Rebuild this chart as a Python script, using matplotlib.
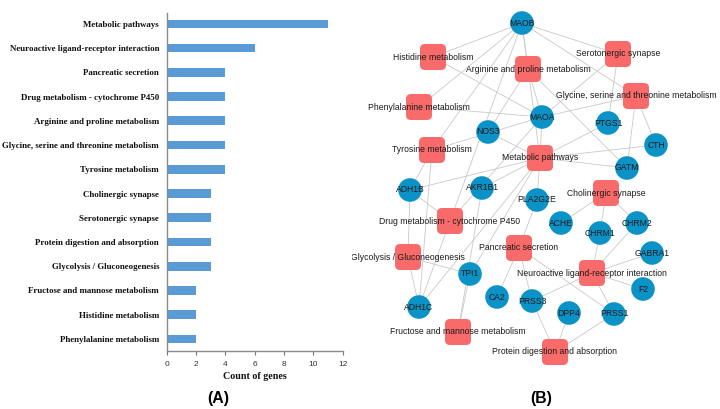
import matplotlib
matplotlib.use("Agg")
import matplotlib.pyplot as plt
from matplotlib.patches import Circle, FancyBboxPatch

# ---------------- Data: bar chart (A) ----------------
pathways = [
    "Metabolic pathways",
    "Neuroactive ligand-receptor interaction",
    "Pancreatic secretion",
    "Drug metabolism - cytochrome P450",
    "Arginine and proline metabolism",
    "Glycine, serine and threonine metabolism",
    "Tyrosine metabolism",
    "Cholinergic synapse",
    "Serotonergic synapse",
    "Protein digestion and absorption",
    "Glycolysis / Gluconeogenesis",
    "Fructose and mannose metabolism",
    "Histidine metabolism",
    "Phenylalanine metabolism",
]
gene_counts = [11, 6, 4, 4, 4, 4, 4, 3, 3, 3, 3, 2, 2, 2]
x_ticks = [0, 2, 4, 6, 8, 10, 12]

# ---------------- Data: network (B) ----------------
pathway_nodes = [
    "Histidine metabolism", "Arginine and proline metabolism", "Serotonergic synapse",
    "Glycine, serine and threonine metabolism", "Phenylalanine metabolism",
    "Tyrosine metabolism", "Metabolic pathways", "Cholinergic synapse",
    "Drug metabolism - cytochrome P450", "Pancreatic secretion",
    "Glycolysis / Gluconeogenesis", "Neuroactive ligand-receptor interaction",
    "Fructose and mannose metabolism", "Protein digestion and absorption",
]
pathway_x = [433, 528, 618, 636, 419, 432, 540, 606, 450, 519, 408, 592, 458, 555]
pathway_y = [57, 69, 54, 96, 107, 150, 158, 193, 221, 248, 257, 273, 332, 352]

gene_nodes = ["MAOB", "MAOA", "PTGS1", "NOS3", "CTH", "GATM", "ADH1B", "AKR1B1",
              "PLA2G2E", "ACHE", "CHRM1", "CHRM2", "GABRA1", "TPI1", "F2", "CA2",
              "PRSS3", "ADH1C", "DPP4", "PRSS1"]
gene_x = [522, 542, 608, 488, 656, 627, 410, 482, 537, 561, 600, 637, 652, 470, 643, 497,
          532, 419, 569, 614]
gene_y = [23, 117, 123, 132, 145, 168, 190, 188, 200, 223, 233, 223, 253, 274, 289, 297,
          301, 307, 313, 314]

edges = [
    ("MAOB", "Histidine metabolism"), ("MAOB", "Arginine and proline metabolism"),
    ("MAOB", "Serotonergic synapse"), ("MAOB", "Glycine, serine and threonine metabolism"),
    ("MAOB", "Phenylalanine metabolism"), ("MAOB", "Tyrosine metabolism"),
    ("MAOB", "Metabolic pathways"), ("MAOB", "Drug metabolism - cytochrome P450"),
    ("MAOA", "Histidine metabolism"), ("MAOA", "Arginine and proline metabolism"),
    ("MAOA", "Serotonergic synapse"), ("MAOA", "Glycine, serine and threonine metabolism"),
    ("MAOA", "Phenylalanine metabolism"), ("MAOA", "Tyrosine metabolism"),
    ("MAOA", "Metabolic pathways"), ("MAOA", "Drug metabolism - cytochrome P450"),
    ("NOS3", "Arginine and proline metabolism"), ("NOS3", "Metabolic pathways"),
    ("PTGS1", "Serotonergic synapse"), ("PTGS1", "Metabolic pathways"),
    ("CTH", "Glycine, serine and threonine metabolism"), ("CTH", "Metabolic pathways"),
    ("GATM", "Glycine, serine and threonine metabolism"),
    ("GATM", "Arginine and proline metabolism"), ("GATM", "Metabolic pathways"),
    ("ADH1B", "Tyrosine metabolism"), ("ADH1B", "Glycolysis / Gluconeogenesis"),
    ("ADH1B", "Drug metabolism - cytochrome P450"), ("ADH1B", "Metabolic pathways"),
    ("ADH1C", "Tyrosine metabolism"), ("ADH1C", "Glycolysis / Gluconeogenesis"),
    ("ADH1C", "Drug metabolism - cytochrome P450"), ("ADH1C", "Metabolic pathways"),
    ("AKR1B1", "Fructose and mannose metabolism"), ("AKR1B1", "Metabolic pathways"),
    ("TPI1", "Fructose and mannose metabolism"), ("TPI1", "Glycolysis / Gluconeogenesis"),
    ("TPI1", "Metabolic pathways"),
    ("PLA2G2E", "Pancreatic secretion"), ("PLA2G2E", "Metabolic pathways"),
    ("ACHE", "Cholinergic synapse"),
    ("CHRM1", "Cholinergic synapse"), ("CHRM1", "Neuroactive ligand-receptor interaction"),
    ("CHRM2", "Cholinergic synapse"), ("CHRM2", "Neuroactive ligand-receptor interaction"),
    ("GABRA1", "Neuroactive ligand-receptor interaction"),
    ("F2", "Neuroactive ligand-receptor interaction"),
    ("CA2", "Pancreatic secretion"),
    ("PRSS3", "Pancreatic secretion"), ("PRSS3", "Neuroactive ligand-receptor interaction"),
    ("PRSS3", "Protein digestion and absorption"),
    ("PRSS1", "Pancreatic secretion"), ("PRSS1", "Neuroactive ligand-receptor interaction"),
    ("PRSS1", "Protein digestion and absorption"),
    ("DPP4", "Protein digestion and absorption"),
]

# ---------------- Figure ----------------
W, H = 720, 409
fig = plt.figure(figsize=(W / 100, H / 100), dpi=100)
fig.patch.set_facecolor("white")

# ---- Panel A ----
axA = fig.add_axes([166.7 / W, 1 - 351 / H, 176 / W, 338 / H])
ypos = list(range(len(pathways)))
axA.barh(ypos, gene_counts, height=0.36, color="#5B9BD5", zorder=2)
axA.set_ylim(13.5, -0.45)
axA.set_xlim(0, 12)
axA.set_yticks(ypos)
axA.set_yticklabels(pathways, family="Liberation Serif", fontweight="bold",
                    fontsize=6.4, color="#111111")
axA.tick_params(axis="y", length=0, pad=5.5)
axA.set_xticks(x_ticks)
axA.set_xticklabels([str(t) for t in x_ticks], family="Liberation Sans",
                    fontsize=6.0, color="#333333")
axA.tick_params(axis="x", length=3, width=0.8, color="#777777", pad=4, direction="out")
for s in ("top", "right"):
    axA.spines[s].set_visible(False)
for s in ("left", "bottom"):
    axA.spines[s].set_color("#8a8a8a")
    axA.spines[s].set_linewidth(1.0)
axA.set_xlabel("Count of genes", family="Liberation Serif", fontweight="bold",
               fontsize=7.2, color="#111111", labelpad=3)
fig.text(218 / W, 1 - 398 / H, "(A)", family="Liberation Sans", fontweight="bold",
         fontsize=11.4, ha="center", va="center")

# ---- Panel B ----
x0 = 352
axB = fig.add_axes([x0 / W, 0, (W - x0) / W, 1])
axB.set_xlim(x0, W)
axB.set_ylim(H, 0)
axB.axis("off")

pos = {}
for n, x, y in zip(pathway_nodes, pathway_x, pathway_y):
    pos[n] = (x, y)
for n, x, y in zip(gene_nodes, gene_x, gene_y):
    pos[n] = (x, y)

for a, b in edges:
    (xa, ya), (xb, yb) = pos[a], pos[b]
    axB.plot([xa, xb], [ya, yb], color="#c9c9c9", lw=0.6, zorder=1,
             solid_capstyle="round")

side = 26
for n, x, y in zip(pathway_nodes, pathway_x, pathway_y):
    r = 5
    p = FancyBboxPatch((x - side / 2 + r, y - side / 2 + r), side - 2 * r, side - 2 * r,
                       boxstyle=f"round,pad={r}", facecolor="#F96A6A",
                       edgecolor="none", zorder=2)
    axB.add_patch(p)
for n, x, y in zip(gene_nodes, gene_x, gene_y):
    axB.add_patch(Circle((x, y), 11.8, facecolor="#0B93C7", edgecolor="none", zorder=2))

for n, x, y in zip(pathway_nodes + gene_nodes, pathway_x + gene_x, pathway_y + gene_y):
    axB.text(x, y, n, family="Liberation Sans", fontsize=6.2, color="#1a1a1a",
             ha="center", va="center", zorder=3, clip_on=True)

fig.text(541 / W, 1 - 399 / H, "(B)", family="Liberation Sans", fontweight="bold",
         fontsize=11.4, ha="center", va="center")

fig.savefig("out.png", dpi=100)
